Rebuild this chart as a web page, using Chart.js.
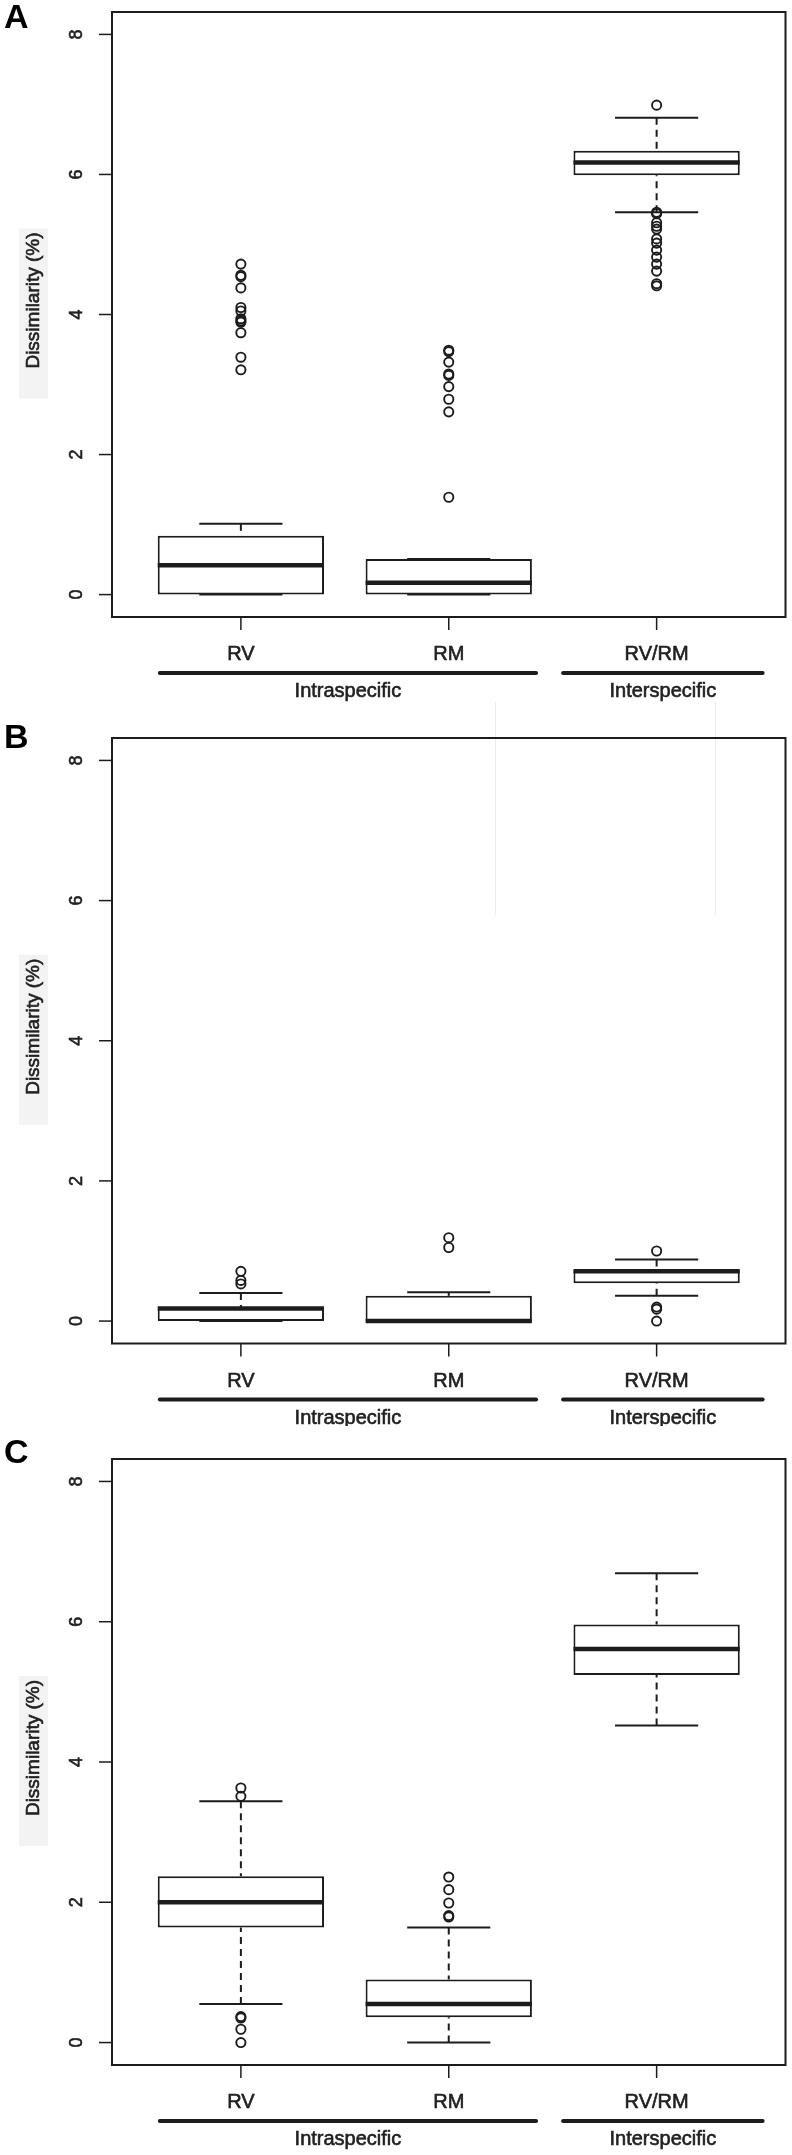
<!DOCTYPE html>
<html>
<head>
<meta charset="utf-8">
<title>Dissimilarity boxplots</title>
<script src="https://cdn.jsdelivr.net/npm/chart.js@4.4.1/dist/chart.umd.min.js"></script>
<style>
  html, body { margin: 0; padding: 0; background: #fff; }
  #page { position: relative; width: 792px; height: 2155px; overflow: hidden; }
  .panel { position: absolute; left: 0; width: 792px; }
  .scan { position: absolute; width: 1px; background: #ececec; }
</style>
</head>
<body>
<div id="page">
  <div class="scan" style="left:495px; top:702px; height:214px"></div>
  <div class="scan" style="left:715px; top:702px; height:214px"></div>
  <div class="panel" style="top:0; height:712px"><canvas id="chartA"></canvas></div>
  <div class="panel" style="top:706px; height:720px"><canvas id="chartB"></canvas></div>
  <div class="panel" style="top:1427px; height:728px"><canvas id="chartC"></canvas></div>
</div>
<script>
const categories = ["RV", "RM", "RV/RM"];
const catPos = [1, 2, 3];
const groupLabels = ["Intraspecific", "Interspecific"];
const groupFrom = [0.61, 2.55];
const groupTo = [2.42, 3.51];
const yTicks = [0, 2, 4, 6, 8];

// [lower whisker, Q1, median, Q3, upper whisker] per category
const boxA = [
  [0, 0, 0.42, 0.84, 1.01],
  [0, 0, 0.17, 0.51, 0.51],
  [5.46, 5.99, 6.17, 6.34, 6.81]
];
const outA = [
  [4.72, 4.56, 4.54, 4.38, 4.1, 4.05, 3.94, 3.91, 3.89, 3.74, 3.39, 3.21],
  [3.49, 3.47, 3.32, 3.15, 3.13, 2.97, 2.79, 2.61, 1.39],
  [6.99, 5.46, 5.44, 5.31, 5.26, 5.22, 5.08, 5.02, 4.92, 4.82, 4.72, 4.62, 4.44, 4.41]
];
const boxB = [
  [0, 0, 0.18, 0.2, 0.4],
  [0, 0, 0, 0.36, 0.41],
  [0.36, 0.54, 0.71, 0.72, 0.88]
];
const outB = [
  [0.71, 0.58, 0.53],
  [1.19, 1.05],
  [1.0, 0.2, 0.17, 0]
];
const boxC = [
  [0.55, 1.64, 2.0, 2.37, 3.44],
  [0, 0.36, 0.55, 0.9, 1.64],
  [4.52, 5.24, 5.61, 5.96, 6.69]
];
const outC = [
  [3.63, 3.51, 0.37, 0.35, 0.19, 0],
  [2.36, 2.18, 1.99, 1.81, 1.79],
  []
];

const ink = "#1c1c1c";
const font = '"Liberation Sans", Arial, Helvetica, sans-serif';

// scanned text looks a bit heavier than plain regular
function inkText(ctx, s, x, y) {
  ctx.fillText(s, x, y);
  ctx.strokeText(s, x, y);
}

// R-like axes, whiskers and medians, all placed through the chart scales
const rStyle = {
  id: "rStyle",
  beforeDraw(chart, args, o) {
    const { ctx, chartArea: a } = chart;
    const mid = (a.top + a.bottom) / 2;
    ctx.save();
    ctx.fillStyle = "#f3f3f3";
    ctx.fillRect(19, mid - 86, 29, 170);
    ctx.restore();
  },
  afterDatasetsDraw(chart, args, o) {
    const { ctx, chartArea: a, scales: { x, y } } = chart;
    ctx.save();
    ctx.strokeStyle = ink;
    ctx.fillStyle = "#222";

    o.box.forEach((s, i) => {
      const cx = x.getPixelForValue(catPos[i]);
      const half = x.getPixelForValue(catPos[i] + 0.4) - cx;
      const staple = half / 2;
      ctx.lineWidth = 2;
      ctx.lineCap = "butt";
      ctx.setLineDash([7, 5]);
      ctx.beginPath();
      ctx.moveTo(cx, y.getPixelForValue(s[4]));
      ctx.lineTo(cx, y.getPixelForValue(s[3]));
      ctx.moveTo(cx, y.getPixelForValue(s[0]));
      ctx.lineTo(cx, y.getPixelForValue(s[1]));
      ctx.stroke();
      ctx.setLineDash([]);
      ctx.beginPath();
      [s[0], s[4]].forEach(v => {
        const py = y.getPixelForValue(v);
        ctx.moveTo(cx - staple, py);
        ctx.lineTo(cx + staple, py);
      });
      ctx.stroke();
      const my = y.getPixelForValue(s[2]);
      ctx.lineWidth = 4.5;
      ctx.beginPath();
      ctx.moveTo(cx - half, my);
      ctx.lineTo(cx + half, my);
      ctx.stroke();
    });

    // frame
    ctx.lineWidth = 2;
    ctx.strokeRect(a.left, a.top, a.right - a.left, a.bottom - a.top);

    // y axis
    ctx.font = "18px " + font;
    ctx.textAlign = "center";
    ctx.textBaseline = "middle";
    yTicks.forEach(t => {
      const py = y.getPixelForValue(t);
      ctx.lineWidth = 1.5;
      ctx.beginPath();
      ctx.moveTo(a.left - 13, py);
      ctx.lineTo(a.left, py);
      ctx.stroke();
      ctx.save();
      ctx.translate(a.left - 35, py);
      ctx.rotate(-Math.PI / 2);
      ctx.lineWidth = 0.6;
      inkText(ctx, String(t), 0, 0);
      ctx.restore();
    });
    ctx.save();
    ctx.translate(34, (a.top + a.bottom) / 2 - 14);
    ctx.rotate(-Math.PI / 2);
    ctx.font = "19px " + font;
    ctx.lineWidth = 0.6;
    inkText(ctx, "Dissimilarity (%)", 0, 0);
    ctx.restore();

    // x axis
    ctx.font = "20px " + font;
    ctx.textBaseline = "alphabetic";
    categories.forEach((c, i) => {
      const px = x.getPixelForValue(catPos[i]);
      ctx.lineWidth = 1.5;
      ctx.beginPath();
      ctx.moveTo(px, a.bottom);
      ctx.lineTo(px, a.bottom + 13);
      ctx.stroke();
      ctx.lineWidth = 0.6;
      inkText(ctx, c, px, a.bottom + 43);
    });

    // group bars under the categories
    groupLabels.forEach((g, i) => {
      const x0 = x.getPixelForValue(groupFrom[i]);
      const x1 = x.getPixelForValue(groupTo[i]);
      ctx.lineWidth = 4;
      ctx.lineCap = "round";
      ctx.beginPath();
      ctx.moveTo(x0, a.bottom + 56);
      ctx.lineTo(x1, a.bottom + 56);
      ctx.stroke();
      ctx.lineWidth = 0.6;
      inkText(ctx, g, (x0 + x1) / 2, a.bottom + 80);
    });

    // panel letter
    ctx.font = "bold 34px " + font;
    ctx.textAlign = "left";
    ctx.fillStyle = "#000";
    ctx.fillText(o.letter, 4, o.letterY);
    ctx.restore();
  }
};

function makePanel(id, box, out, letter, letterY, padTop, padBottom) {
  return new Chart(document.getElementById(id), {
    type: "bar",
    data: {
      datasets: [
        {
          type: "bar",
          data: box.map((s, i) => ({ x: catPos[i], y: [s[1], s[3]] })),
          backgroundColor: "#fff",
          borderColor: ink,
          borderWidth: 2,
          borderSkipped: false,
          barPercentage: 0.8,
          categoryPercentage: 1,
          order: 2
        },
        {
          type: "scatter",
          data: out.flatMap((vals, i) => vals.map(v => ({ x: catPos[i], y: v }))),
          pointStyle: "circle",
          pointRadius: 4.6,
          pointBorderWidth: 1.9,
          pointBackgroundColor: "rgba(0,0,0,0)",
          pointBorderColor: ink,
          order: 1
        }
      ]
    },
    options: {
      responsive: true,
      maintainAspectRatio: false,
      animation: false,
      devicePixelRatio: 1,
      events: [],
      layout: { padding: { left: 112, right: 2, top: padTop, bottom: padBottom } },
      scales: {
        x: {
          type: "linear", min: 0.38, max: 3.62, offset: false, display: false,
          afterBuildTicks: s => { s.ticks = catPos.map(v => ({ value: v })); }
        },
        y: { type: "linear", min: -0.32, max: 8.32, display: false }
      },
      plugins: {
        legend: { display: false },
        tooltip: { enabled: false },
        rStyle: { box, letter, letterY }
      }
    },
    plugins: [rStyle]
  });
}

makePanel("chartA", boxA, outA, "A", 28, 12, 95);
makePanel("chartB", boxB, outB, "B", 42, 32, 82.5);
makePanel("chartC", boxC, outC, "C", 36, 32, 90);
</script>
</body>
</html>
